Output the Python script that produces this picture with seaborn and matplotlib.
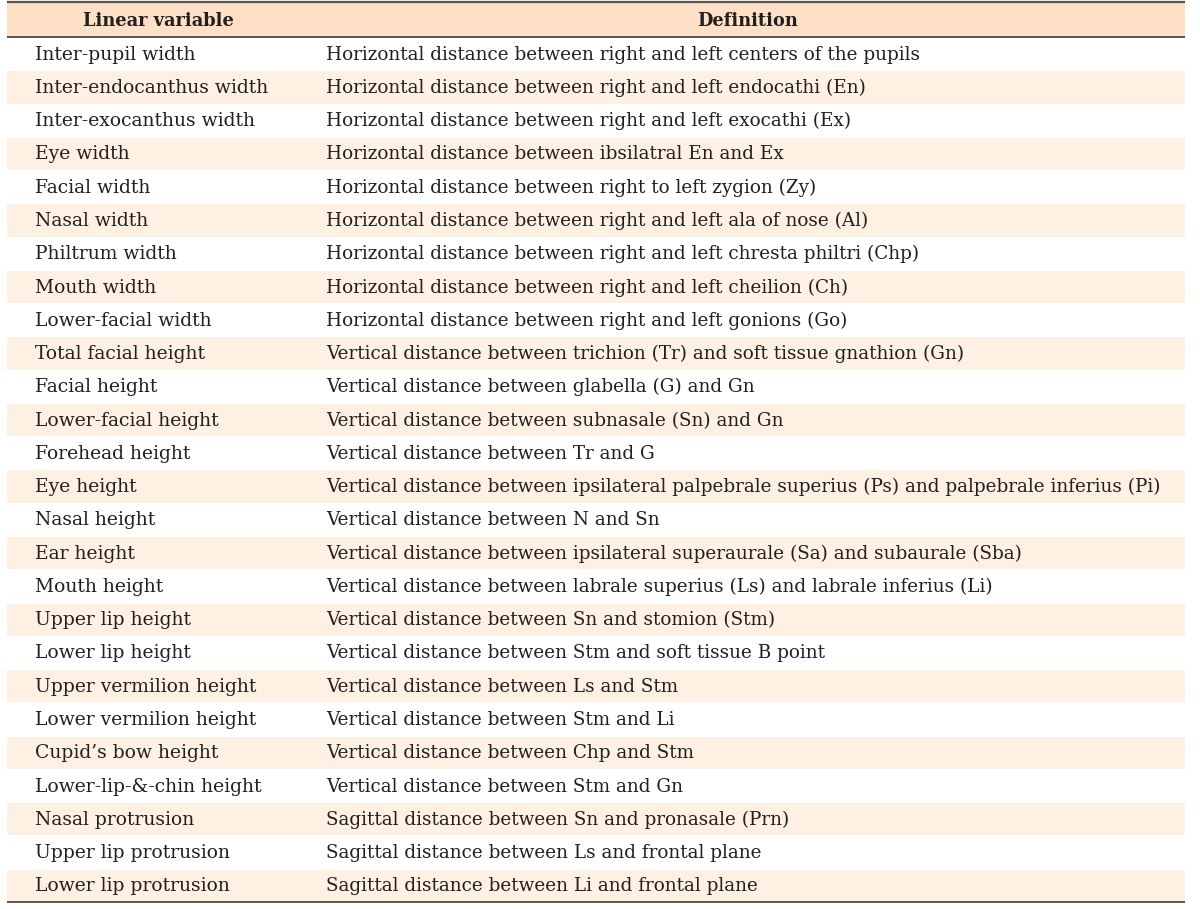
import matplotlib
matplotlib.use('Agg')
import matplotlib.pyplot as plt
import seaborn as sns

sns.set_theme(style="white")
plt.rcParams['font.family'] = ['DejaVu Serif']

# ==================== 表格数据 ====================
headers = ['Linear variable', 'Definition']
variables = [
    'Inter-pupil width', 'Inter-endocanthus width', 'Inter-exocanthus width', 'Eye width',
    'Facial width', 'Nasal width', 'Philtrum width', 'Mouth width', 'Lower-facial width',
    'Total facial height', 'Facial height', 'Lower-facial height', 'Forehead height',
    'Eye height', 'Nasal height', 'Ear height', 'Mouth height', 'Upper lip height',
    'Lower lip height', 'Upper vermilion height', 'Lower vermilion height',
    'Cupid\u2019s bow height', 'Lower-lip-&-chin height', 'Nasal protrusion',
    'Upper lip protrusion', 'Lower lip protrusion',
]
definitions = [
    'Horizontal distance between right and left centers of the pupils',
    'Horizontal distance between right and left endocathi (En)',
    'Horizontal distance between right and left exocathi (Ex)',
    'Horizontal distance between ibsilatral En and Ex',
    'Horizontal distance between right to left zygion (Zy)',
    'Horizontal distance between right and left ala of nose (Al)',
    'Horizontal distance between right and left chresta philtri (Chp)',
    'Horizontal distance between right and left cheilion (Ch)',
    'Horizontal distance between right and left gonions (Go)',
    'Vertical distance between trichion (Tr) and soft tissue gnathion (Gn)',
    'Vertical distance between glabella (G) and Gn',
    'Vertical distance between subnasale (Sn) and Gn',
    'Vertical distance between Tr and G',
    'Vertical distance between ipsilateral palpebrale superius (Ps) and palpebrale inferius (Pi)',
    'Vertical distance between N and Sn',
    'Vertical distance between ipsilateral superaurale (Sa) and subaurale (Sba)',
    'Vertical distance between labrale superius (Ls) and labrale inferius (Li)',
    'Vertical distance between Sn and stomion (Stm)',
    'Vertical distance between Stm and soft tissue B point',
    'Vertical distance between Ls and Stm',
    'Vertical distance between Stm and Li',
    'Vertical distance between Chp and Stm',
    'Vertical distance between Stm and Gn',
    'Sagittal distance between Sn and pronasale (Prn)',
    'Sagittal distance between Ls and frontal plane',
    'Sagittal distance between Li and frontal plane',
]

# ==================== 布局（像素坐标） ====================
W, H = 1200, 909
left, right = 7, 1185
col2_x = 310
head_top, head_bot = 2, 37
body_bot = 902
n = len(variables)
row_h = (body_bot - head_bot) / n

header_color = '#fde0c5'
stripe_color = '#fef0e3'
line_color = '#5a5550'
text_color = '#231f20'

fig = plt.figure(figsize=(W / 100, H / 100), dpi=100)
ax = fig.add_axes([0, 0, 1, 1])
ax.set_xlim(0, W)
ax.set_ylim(H, 0)
ax.axis('off')

# 表头背景
ax.axhspan(head_top, head_bot, xmin=left / W, xmax=right / W, color=header_color, lw=0)
# 隔行底色
for i in range(n):
    if i % 2 == 1:
        y0 = head_bot + i * row_h
        ax.axhspan(y0 + 1, y0 + row_h, xmin=left / W, xmax=right / W, color=stripe_color, lw=0)

# 线条
for y, lw in [(head_top, 1.6), (head_bot, 1.4), (body_bot, 1.4)]:
    ax.plot([left, right], [y, y], color=line_color, lw=lw, solid_capstyle='butt')

ax.text((left + col2_x) / 2, (head_top + head_bot) / 2 + 1, headers[0], ha='center', va='center',
        fontsize=12.8, fontweight='bold', color=text_color)
ax.text((col2_x + right) / 2, (head_top + head_bot) / 2 + 1, headers[1], ha='center', va='center',
        fontsize=12.8, fontweight='bold', color=text_color)

for i, (v, d) in enumerate(zip(variables, definitions)):
    yc = head_bot + (i + 0.5) * row_h + 1
    ax.text(35, yc, v, ha='left', va='center', fontsize=13.5, color=text_color)
    ax.text(326, yc, d, ha='left', va='center', fontsize=13.25, color=text_color)

plt.savefig('out.png', dpi=100)
plt.close()
